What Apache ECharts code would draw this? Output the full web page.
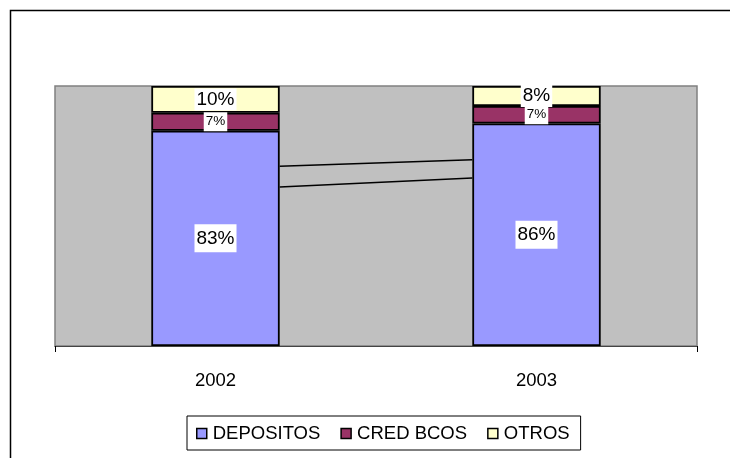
<!DOCTYPE html>
<html>
<head>
<meta charset="utf-8">
<script src="https://cdn.jsdelivr.net/npm/echarts@6/dist/echarts.min.js"></script>
<style>
  html, body { margin: 0; padding: 0; background: #fff; }
  #chart { width: 730px; height: 458px; }
</style>
</head>
<body>
<div id="chart"></div>
<script>
// categories and stacked shares (percent)
const years = ["2002", "2003"]
const depositos = [82.8, 85.6]
const credBcos = [6.9, 6.7]
const otros = [10.3, 7.7]
// series lines drawn between the bars: [value at 2002, value at 2003]
const seriesLines = [
  [69.1, 71.6],
  [61.2, 64.6]
]

const font = "Liberation Sans, Arial, sans-serif"

const pctLabel = (size, pad) => ({
  show: true,
  position: "inside",
  color: "#000",
  fontFamily: font,
  fontSize: size,
  backgroundColor: "#fff",
  padding: pad,
  formatter: (p) => Math.round(p.value) + "%"
})

const barStyle = (color) => ({
  color: color,
  borderColor: "#000",
  borderWidth: 1.8
})

const chart = echarts.init(document.getElementById("chart"))
chart.setOption({
  animation: false,
  graphic: [
    {
      type: "rect",
      shape: { x: 10.5, y: 10.5, width: 760, height: 480 },
      style: { fill: "none", stroke: "#000", lineWidth: 1.5 },
      z: 100
    }
  ],
  grid: {
    left: 55,
    right: 33,
    top: 86,
    bottom: 112,
    show: true,
    backgroundColor: "#c0c0c0",
    borderColor: "#808080",
    borderWidth: 1.5
  },
  legend: {
    left: 187,
    top: 416,
    padding: [8, 11, 7, 9],
    itemGap: 20,
    itemWidth: 10,
    itemHeight: 10,
    icon: "rect",
    borderColor: "#000",
    borderWidth: 1,
    itemStyle: { borderColor: "#000", borderWidth: 1.5 },
    textStyle: { fontFamily: font, fontSize: 18.5, color: "#000", padding: [2, 0, 0, 1] },
    data: ["DEPOSITOS", "CRED BCOS", "OTROS"]
  },
  xAxis: {
    type: "category",
    data: years,
    axisLine: { lineStyle: { color: "#444", width: 1 } },
    axisTick: { show: true, length: 6, interval: (i) => i !== 1, lineStyle: { color: "#000" } },
    axisLabel: { fontFamily: font, fontSize: 18.5, color: "#000", margin: 25 }
  },
  yAxis: {
    type: "value",
    min: 0,
    max: 100,
    show: false,
    splitLine: { show: false }
  },
  series: [
    {
      name: "DEPOSITOS",
      type: "bar",
      stack: "total",
      barWidth: "40%",
      data: depositos,
      itemStyle: barStyle("#9999ff"),
      label: pctLabel(19, [5, 2, 4, 2])
    },
    {
      name: "CRED BCOS",
      type: "bar",
      stack: "total",
      data: credBcos,
      itemStyle: barStyle("#993366"),
      label: pctLabel(13.5, [3, 2, 2, 2])
    },
    {
      name: "OTROS",
      type: "bar",
      stack: "total",
      data: otros,
      itemStyle: barStyle("#ffffcc"),
      label: pctLabel(19, [2, 2, 1, 2])
    },
    {
      type: "custom",
      silent: true,
      z: 3,
      data: seriesLines,
      renderItem: (params, api) => {
        const band = api.size([1, 0])[0]
        const half = band * 0.2
        const a = api.coord([0, api.value(0)])
        const b = api.coord([1, api.value(1)])
        return {
          type: "line",
          shape: { x1: a[0] + half, y1: a[1], x2: b[0] - half, y2: b[1] },
          style: { stroke: "#000", lineWidth: 1.5 }
        }
      }
    }
  ]
})
</script>
</body>
</html>
